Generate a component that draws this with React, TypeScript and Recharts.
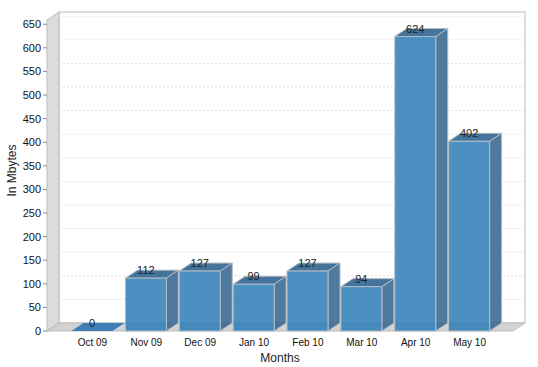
import { BarChart, Bar, XAxis, YAxis, ReferenceArea, ReferenceLine, LabelList } from 'recharts';

const months = ['Oct 09', 'Nov 09', 'Dec 09', 'Jan 10', 'Feb 10', 'Mar 10', 'Apr 10', 'May 10'];
const mbytes = [0, 112, 127, 99, 127, 94, 624, 402];
const yTicks = [0, 50, 100, 150, 200, 250, 300, 350, 400, 450, 500, 550, 600, 650];

const data = months.map((month, i) => ({ month, mbytes: mbytes[i] }));

const FONT = '"Liberation Sans", Arial, sans-serif';
const DX = 12;
const DY = -8;
const PAD_LEFT = 18.5;
const PAD_RIGHT = 16.5;

function Walls({ x, y, width, height }: any) {
  // the area only spans the padded band range, walls need the whole plot width
  const l = x - PAD_LEFT;
  const r = x + width + PAD_RIGHT;
  const b = y + height;
  return (
    <g>
      <polygon points={`${l + DX},${y + DY} ${r + DX},${y + DY} ${r + DX},${b + DY} ${l + DX},${b + DY}`} fill="#ffffff" stroke="#bdbdbd" strokeWidth={1} />
      <polygon points={`${l},${y} ${l + DX},${y + DY} ${l + DX},${b + DY} ${l},${b}`} fill="#dcdcdc" stroke="#bdbdbd" strokeWidth={1} />
      <polygon points={`${l},${b} ${l + DX},${b + DY} ${r + DX},${b + DY} ${r},${b}`} fill="#d2d2d2" stroke="#bdbdbd" strokeWidth={1} />
    </g>
  );
}

function GridLine({ x1, x2, y1, y2 }: any) {
  const left = Math.min(x1, x2);
  const right = Math.max(x1, x2);
  return (
    <g stroke="#e2e2e2" strokeWidth={1} strokeDasharray="2 2" fill="none">
      <line x1={left} y1={y1} x2={left + DX} y2={y2 + DY} />
      <line x1={left + DX} y1={y1 + DY} x2={right + DX} y2={y2 + DY} />
    </g>
  );
}

function Box({ x, y, width, height }: any) {
  const r = x + width;
  const b = y + height;
  const flat = height <= 0;
  return (
    <g>
      <polygon
        points={`${x},${y} ${x + DX},${y + DY} ${r + DX},${y + DY} ${r},${y}`}
        fill={flat ? '#3f7fb5' : '#44749c'}
        stroke={flat ? 'none' : '#b4bcc4'}
      />
      {!flat && (
        <>
          <polygon points={`${r},${y} ${r + DX},${y + DY} ${r + DX},${b + DY} ${r},${b}`} fill="#37678f" fillOpacity={0.88} stroke="#b4bcc4" />
          <rect x={x} y={y} width={width} height={height} fill="#317fb8" fillOpacity={0.87} stroke="#b4bcc4" />
        </>
      )}
    </g>
  );
}

function ValueLabel({ x, y, width, value }: any) {
  return (
    <text x={x + width / 2} y={y - 4} textAnchor="middle" fontFamily={FONT} fontSize={11} fill="#222222">
      {value}
    </text>
  );
}

export default function App() {
  return (
    <div style={{ position: 'absolute', left: 0, top: 0, width: 538, height: 367 }}>
      <BarChart width={538} height={367} data={data} margin={{ top: 20, right: 25, left: 0, bottom: 0 }} barSize={41}>
        <ReferenceArea y1={0} y2={659} ifOverflow="visible" shape={<Walls />} fill="none" stroke="none" />
        {yTicks.slice(1).map((t) => (
          <ReferenceLine key={t} y={t} shape={<GridLine />} zIndex={150} />
        ))}
        <XAxis
          dataKey="month"
          height={36}
          interval={0}
          padding={{ left: PAD_LEFT, right: PAD_RIGHT }}
          axisLine={false}
          tickLine={false}
          tick={{ fontFamily: FONT, fontSize: 10, fill: '#111111' }}
          tickMargin={2}
          label={{ value: 'Months', position: 'insideBottom', offset: 5, fontFamily: FONT, fontSize: 12, fill: '#222222' }}
        />
        <YAxis
          width={47}
          domain={[0, 659]}
          ticks={yTicks}
          interval={0}
          axisLine={false}
          tickSize={4}
          tickLine={{ stroke: '#888888' }}
          tick={{ fontFamily: FONT, fontSize: 11, fill: '#111111' }}
          label={{ value: 'In Mbytes', angle: -90, position: 'insideLeft', offset: 12, dy: -5, fontFamily: FONT, fontSize: 12, fill: '#222222', style: { textAnchor: 'middle' } }}
        />
        <Bar dataKey="mbytes" isAnimationActive={false} shape={<Box />}>
          <LabelList dataKey="mbytes" content={<ValueLabel />} />
        </Bar>
      </BarChart>
    </div>
  );
}
